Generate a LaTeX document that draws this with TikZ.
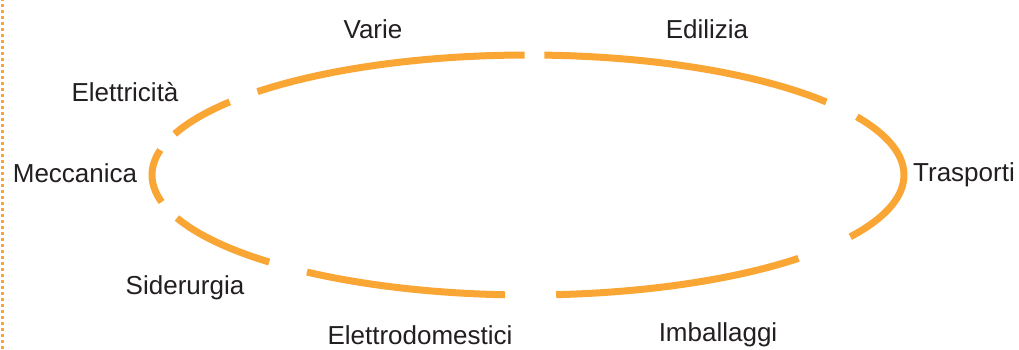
\documentclass[tikz,border=0pt]{standalone}
\usepackage{fontspec}
\setmainfont{Liberation Sans}
\definecolor{ring}{RGB}{250,166,52}
\definecolor{ink}{RGB}{35,31,32}
\begin{document}
\begin{tikzpicture}[x=1pt,y=1pt,
  lab/.style={anchor=base,inner sep=0pt,text=ink,font=\fontsize{26}{30}\selectfont},
  seg/.style={draw=ring,line width=7pt}]
\useasboundingbox (0,0) rectangle (1019,349);
\fill[white] (0,0) rectangle (1019,349);
\draw[ring,line width=2.5pt,dash pattern=on 3pt off 3pt] (2.5,0) -- (2.5,349);
\coordinate (c) at (528,174);
\foreach \a/\b in {168/193, 142.5/160, 90.5/136, 37.5/87.5, -31/29, -85.7/-44, 234/266.5, 201/226.5}{
  \draw[seg] (c) ++(\a:376pt and 120pt) arc[start angle=\a, end angle=\b, x radius=376pt, y radius=120pt];
}
\node[lab] (varie) at (373,310) {Varie};
\node[lab] (edilizia) at (707,311) {Edilizia};
\node[lab] (elettricita) at (125,248) {Elettricità};
\node[lab] (meccanica) at (75,167) {Meccanica};
\node[lab] (trasporti) at (964,168) {Trasporti};
\node[lab] (siderurgia) at (185,55) {Siderurgia};
\node[lab] (elettrodomestici) at (420,5) {Elettrodomestici};
\node[lab] (imballaggi) at (718,8) {Imballaggi};
\end{tikzpicture}
\end{document}
